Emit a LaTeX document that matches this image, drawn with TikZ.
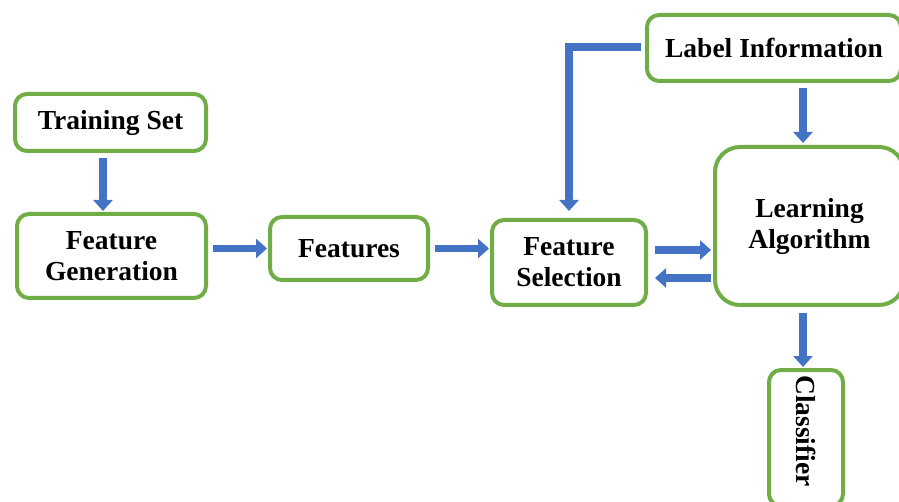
\documentclass[tikz,border=0pt]{standalone}
\usepackage{fontspec}
\setmainfont{Liberation Serif}
\usetikzlibrary{arrows.meta,calc}
\definecolor{boxgreen}{HTML}{70AD47}
\definecolor{arrblue}{HTML}{4472C4}
\begin{document}
\begin{tikzpicture}[x=1pt,y=-1pt,
  box/.style={draw=boxgreen,line width=4pt,rounded corners=12pt,fill=white,
    align=center,font=\fontsize{27.5}{31}\selectfont\bfseries,inner sep=0pt},
  arr/.style={draw=arrblue,line width=7.5pt,-{Triangle[width=19pt,length=11pt]}}]
\useasboundingbox (0,0) rectangle (899,502);
\clip (0,0) rectangle (899,502);
\fill[white] (0,0) rectangle (899,502);
\node[box,minimum width=191pt,minimum height=57pt] (ts) at (110.5,122.5) {Training Set};
\node[box,minimum width=189pt,minimum height=84pt] (fg) at (111.5,256) {Feature\\Generation};
\node[box,minimum width=158pt,minimum height=63pt] (feat) at (349,248.5) {Features};
\node[box,minimum width=154pt,minimum height=85pt] (fs) at (569,262.5) {Feature\\Selection};
\node[box,minimum width=254pt,minimum height=66pt] (li) at (774,48) {Label Information};
\node[box,rounded corners=25pt,minimum width=189pt,minimum height=158pt] (la) at (809.5,226) {Learning\\Algorithm};
\node[box,minimum width=136pt,minimum height=74pt,rotate=-90] (cl) at (806,438) {Classifier\hspace*{14pt}};
\draw[arr,shorten <=5pt,shorten >=1pt] (ts.south -| 103,0) -- (fg.north -| 103,0);
\draw[arr,shorten <=5pt,shorten >=1pt] (fg.east |- feat.west) -- (feat.west);
\draw[arr,shorten <=5pt,shorten >=1pt] (feat.east) -- (feat.east -| fs.west);
\draw[arr,shorten <=4pt,shorten >=5pt] ([yshift=1pt]li.west) -| ([yshift=2pt]fs.north);
\draw[arr,shorten <=5pt,shorten >=2pt] (li.south -| 803,0) -- (la.north -| 803,0);
\draw[arr,shorten <=7pt,shorten >=2pt] ([yshift=12.5pt]fs.east) -- ([yshift=12.5pt]fs.east -| la.west);
\draw[arr,shorten <=2pt,shorten >=7pt] ([yshift=-15.5pt]fs.east -| la.west) -- ([yshift=-15.5pt]fs.east);
\draw[arr,shorten <=6pt,shorten >=1pt] (la.south -| 803,0) -- (cl.west -| 803,0);
\end{tikzpicture}
\end{document}
